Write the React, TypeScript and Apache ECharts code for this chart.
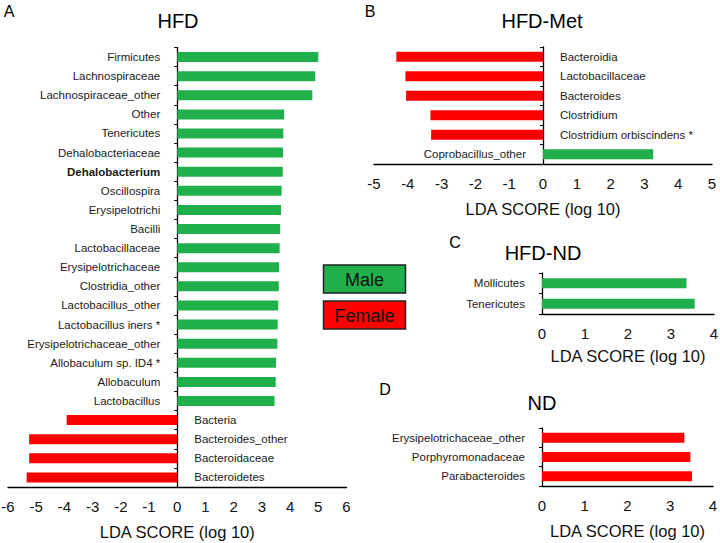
import React, { useEffect, useRef } from "react";
import * as echarts from "echarts";

// ---------- data ----------
const hfdCats = [
  "Firmicutes", "Lachnospiraceae", "Lachnospiraceae_other", "Other", "Tenericutes",
  "Dehalobacteriaceae", "Dehalobacterium", "Oscillospira", "Erysipelotrichi", "Bacilli",
  "Lactobacillaceae", "Erysipelotrichaceae", "Clostridia_other", "Lactobacillus_other",
  "Lactobacillus iners *", "Erysipelotrichaceae_other", "Allobaculum sp. ID4 *",
  "Allobaculum", "Lactobacillus", "Bacteria", "Bacteroides_other", "Bacteroidaceae",
  "Bacteroidetes",
];
const hfdValues = [
  5.0, 4.89, 4.79, 3.79, 3.76, 3.75, 3.74, 3.7, 3.68, 3.65, 3.63, 3.61, 3.6, 3.58,
  3.56, 3.55, 3.5, 3.49, 3.45, -3.92, -5.25, -5.25, -5.34,
];
const hfdGroups = [
  "Male", "Male", "Male", "Male", "Male", "Male", "Male", "Male", "Male", "Male",
  "Male", "Male", "Male", "Male", "Male", "Male", "Male", "Male", "Male",
  "Female", "Female", "Female", "Female",
];

const metCats = [
  "Bacteroidia", "Lactobacillaceae", "Bacteroides", "Clostridium",
  "Clostridium orbiscindens *", "Coprobacillus_other",
];
const metValues = [-4.34, -4.07, -4.05, -3.33, -3.31, 3.26];
const metGroups = ["Female", "Female", "Female", "Female", "Female", "Male"];

const hfdNdCats = ["Mollicutes", "Tenericutes"];
const hfdNdValues = [3.36, 3.55];
const hfdNdGroups = ["Male", "Male"];

const ndCats = ["Erysipelotrichaceae_other", "Porphyromonadaceae", "Parabacteroides"];
const ndValues = [3.33, 3.47, 3.51];
const ndGroups = ["Female", "Female", "Female"];

const legendNames = ["Male", "Female"];
const axisTitle = "LDA SCORE (log 10)";

// ---------- styles ----------
const FONT = "'Liberation Sans', Arial, Helvetica, sans-serif";
const GREEN = "#1fb04c";
const RED = "#ff0000";
const BOLD_LABELS = ["Dehalobacterium"];

type Panel = {
  cats: string[];
  values: number[];
  groups: string[];
  min: number;
  max: number;
  grid: { left: number; top: number; width: number; height: number };
  nameGap: number;
};

const panels: Panel[] = [
  { cats: hfdCats, values: hfdValues, groups: hfdGroups, min: -6, max: 6,
    grid: { left: 8, top: 47.5, width: 338.5, height: 439.5 }, nameGap: 36 },
  { cats: metCats, values: metValues, groups: metGroups, min: -5, max: 5,
    grid: { left: 374, top: 47, width: 338, height: 117 }, nameGap: 36 },
  { cats: hfdNdCats, values: hfdNdValues, groups: hfdNdGroups, min: 0, max: 4,
    grid: { left: 542, top: 273, width: 172, height: 41 }, nameGap: 33 },
  { cats: ndCats, values: ndValues, groups: ndGroups, min: 0, max: 4,
    grid: { left: 542, top: 428, width: 171, height: 58 }, nameGap: 36 },
];

const titles = [
  { text: "HFD", x: 178, y: 21 },
  { text: "HFD-Met", x: 542, y: 21 },
  { text: "HFD-ND", x: 543, y: 253 },
  { text: "ND", x: 542, y: 403 },
];
const letters = [
  { text: "A", x: 9, y: 11 },
  { text: "B", x: 370, y: 11 },
  { text: "C", x: 455, y: 242 },
  { text: "D", x: 385, y: 389 },
];

export default function App() {
  const ref = useRef<HTMLDivElement>(null);
  useEffect(() => {
    if (!ref.current) return;
    const chart = echarts.init(ref.current, null, { renderer: "svg" });

    const grids = panels.map((p) => ({ ...p.grid, containLabel: false, outerBoundsMode: "none" }));
    const xAxes = panels.map((p, i) => ({
      type: "value",
      gridIndex: i,
      min: p.min,
      max: p.max,
      interval: 1,
      splitLine: { show: false },
      axisTick: { show: false },
      axisLine: { show: true, onZero: false, lineStyle: { color: "#000", width: 1.3 } },
      axisLabel: { color: "#111", fontSize: 15, fontFamily: FONT, margin: 12 },
      name: axisTitle,
      nameLocation: "middle",
      nameGap: p.nameGap,
      nameTextStyle: { color: "#111", fontSize: 16.5, fontFamily: FONT },
    }));
    const yAxes = panels.map((p, i) => ({
      type: "category",
      gridIndex: i,
      data: p.cats,
      inverse: true,
      axisLine: { show: true, onZero: true, lineStyle: { color: "#000", width: 1.3 } },
      axisTick: { show: true, length: 3, lineStyle: { color: "#000", width: 1 } },
      axisLabel: { show: false },
      splitLine: { show: false },
    }));
    const series = panels.map((p, i) => ({
      type: "bar",
      xAxisIndex: i,
      yAxisIndex: i,
      barWidth: 10,
      data: p.values.map((v, j) => ({
        value: v,
        itemStyle: { color: p.groups[j] === "Male" ? GREEN : RED },
        label: {
          position: v >= 0 ? "left" : "right",
          fontWeight: BOLD_LABELS.includes(p.cats[j]) ? "bold" : "normal",
        },
      })),
      label: {
        show: true,
        formatter: "{b}",
        color: "#1a1a1a",
        fontSize: 11.5,
        fontFamily: FONT,
        distance: 17,
      },
    }));

    const graphic: any[] = [];
    titles.forEach((t) =>
      graphic.push({
        type: "text",
        x: t.x,
        y: t.y,
        style: { text: t.text, fontSize: 20, fontFamily: FONT, fill: "#000", align: "center", verticalAlign: "middle" },
      })
    );
    letters.forEach((t) =>
      graphic.push({
        type: "text",
        x: t.x,
        y: t.y,
        style: { text: t.text, fontSize: 16, fontFamily: FONT, fill: "#000", align: "center", verticalAlign: "middle" },
      })
    );
    legendNames.forEach((name, k) => {
      const y = 265 + k * 36;
      graphic.push({
        type: "rect",
        shape: { x: 323.5, y, width: 82, height: 28 },
        style: { fill: name === "Male" ? GREEN : RED, stroke: "#222", lineWidth: 1.5 },
      });
      graphic.push({
        type: "text",
        x: 364.5,
        y: y + 14.5,
        style: { text: name, fontSize: 18, fontFamily: FONT, fill: "#111", align: "center", verticalAlign: "middle" },
      });
    });

    chart.setOption({
      animation: false,
      backgroundColor: "#fff",
      grid: grids,
      xAxis: xAxes,
      yAxis: yAxes,
      series,
      graphic,
    } as any);
    return () => chart.dispose();
  }, []);
  return (
    <div
      ref={ref}
      style={{ position: "fixed", left: 0, top: 0, width: 720, height: 543, background: "#fff" }}
    />
  );
}
